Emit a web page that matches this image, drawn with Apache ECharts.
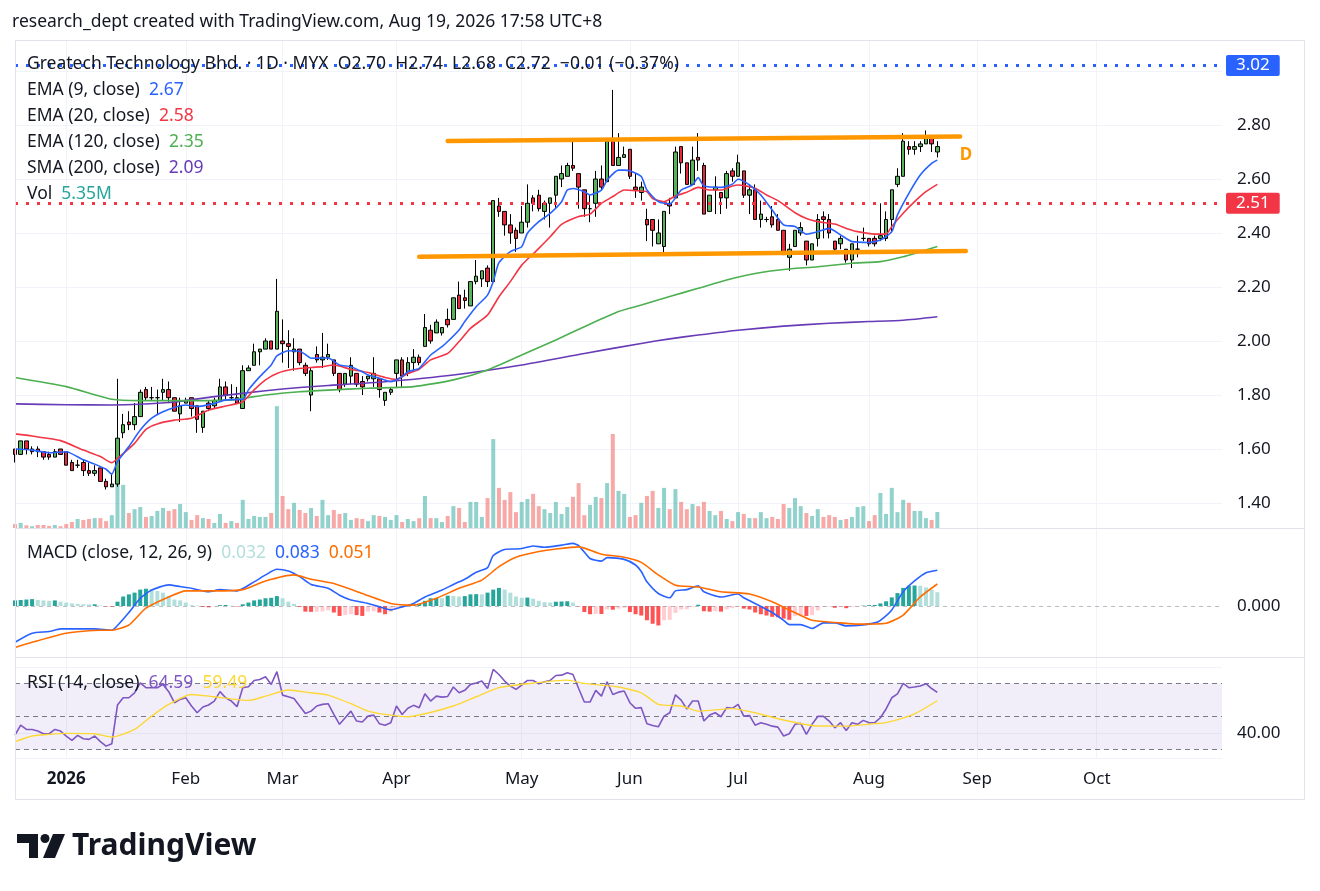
<!DOCTYPE html>
<html>
<head>
<meta charset="utf-8">
<title>Greatech Technology Bhd. 1D MYX</title>
<script src="https://cdn.jsdelivr.net/npm/echarts@6.0.0/dist/echarts.min.js"></script>
<style>
html, body { margin: 0; padding: 0; background: #fff; }
#chart { width: 1320px; height: 891px; }
</style>
</head>
<body>
<div id="chart"></div>
<script>
// trading sessions shown on the time axis (future sessions stay empty)
var tradingDays = [
  ['2025-12', [18,19,22,23,24,26,29,30,31]],
  ['2026-01', [2,5,6,7,8,9,12,13,14,15,16,19,20,21,22,23,26,27,28,29,30]],
  ['2026-02', [3,4,5,6,9,10,11,12,13,16,19,20,23,24,25,26,27]],
  ['2026-03', [2,3,4,5,6,9,10,11,12,13,16,17,18,19,24,25,26,27,30,31]],
  ['2026-04', [1,2,3,6,7,8,9,10,13,14,15,16,17,20,21,22,23,24,27,28,29,30]],
  ['2026-05', [4,5,6,7,8,11,12,13,14,15,18,19,20,21,22,25,26,28,29]],
  ['2026-06', [3,4,5,8,9,10,11,12,15,16,18,19,22,23,24,25,26,29,30]],
  ['2026-07', [1,2,3,6,7,8,9,10,13,14,15,16,17,20,21,22,23,24,27,28,29,30,31]],
  ['2026-08', [3,4,5,6,7,10,11,12,13,14,17,18,19,20,21,24,26,27,28]],
  ['2026-09', [1,2,3,4,7,8,9,10,11,14,15,17,18,21,22,23,24,25,28,29,30]],
  ['2026-10', [1,2,5,6,7,8,9,12,13,14,15,16,19,20,21,22,23,26,27,28,29,30]],
  ['2026-11', [2]]
];
var monthNames = ['Jan','Feb','Mar','Apr','May','Jun','Jul','Aug','Sep','Oct','Nov','Dec'];

var opens = [
  1.60,1.58,1.63,1.59,1.60,1.59,1.58,1.57,1.60,1.59,
  1.55,1.54,1.55,1.52,1.51,1.53,1.48,1.46,1.47,1.66,
  1.70,1.69,1.72,1.82,1.79,1.79,1.81,1.82,1.79,1.73,
  1.77,1.79,1.76,1.68,1.77,1.76,1.78,1.83,1.79,1.79,
  1.75,1.89,1.91,1.96,1.97,2.00,1.97,2.00,1.99,1.96,
  1.97,1.91,1.80,1.95,1.93,1.94,1.93,1.88,1.84,1.87,
  1.88,1.85,1.86,1.86,1.86,1.78,1.81,1.88,1.93,1.88,
  1.92,1.94,1.98,2.04,2.03,2.03,2.08,2.08,2.17,2.16,
  2.13,2.22,2.23,2.27,2.22,2.50,2.48,2.43,2.41,2.40,
  2.44,2.53,2.54,2.48,2.51,2.54,2.60,2.61,2.65,2.62,
  2.56,2.49,2.51,2.60,2.59,2.74,2.65,2.68,2.71,2.57,
  2.55,2.45,2.45,2.36,2.35,2.51,2.53,2.72,2.66,2.58,
  2.68,2.65,2.48,2.56,2.55,2.53,2.63,2.61,2.63,2.54,
  2.56,2.45,2.45,2.46,2.45,2.41,2.31,2.35,2.40,2.37,
  2.30,2.38,2.46,2.45,2.37,2.36,2.34,2.30,2.34,2.38,
  2.38,2.38,2.38,2.38,2.45,2.58,2.61,2.72,2.71,2.72,
  2.73,2.76,2.70
];
var highs = [
  1.60,1.63,1.63,1.61,1.61,1.59,1.59,1.60,1.60,1.59,
  1.56,1.56,1.56,1.55,1.54,1.53,1.49,1.51,1.86,1.73,
  1.74,1.77,1.82,1.83,1.83,1.82,1.86,1.85,1.79,1.79,
  1.79,1.79,1.76,1.74,1.78,1.79,1.86,1.85,1.84,1.83,
  1.91,1.91,1.99,1.97,2.01,2.00,2.23,2.08,2.04,2.01,
  1.97,1.92,1.90,1.98,2.03,1.99,1.93,1.88,1.88,1.94,
  1.88,1.87,1.87,1.94,1.86,1.81,1.83,1.93,1.94,1.94,
  1.97,1.95,2.10,2.06,2.08,2.05,2.12,2.16,2.22,2.19,
  2.22,2.30,2.26,2.28,2.52,2.53,2.48,2.47,2.42,2.50,
  2.58,2.54,2.56,2.52,2.53,2.61,2.65,2.66,2.75,2.62,
  2.56,2.54,2.63,2.65,2.75,2.93,2.77,2.72,2.71,2.62,
  2.59,2.49,2.45,2.45,2.48,2.53,2.72,2.72,2.66,2.72,
  2.77,2.66,2.54,2.61,2.55,2.63,2.64,2.69,2.63,2.58,
  2.58,2.52,2.46,2.50,2.47,2.41,2.36,2.41,2.44,2.37,
  2.36,2.47,2.48,2.47,2.37,2.39,2.34,2.36,2.39,2.42,
  2.38,2.39,2.51,2.48,2.56,2.64,2.77,2.74,2.74,2.74,
  2.78,2.76,2.74
];
var lows = [
  1.55,1.58,1.58,1.58,1.57,1.56,1.56,1.57,1.58,1.54,
  1.52,1.53,1.50,1.50,1.50,1.48,1.45,1.46,1.46,1.64,
  1.67,1.67,1.72,1.78,1.78,1.73,1.78,1.77,1.74,1.70,
  1.77,1.72,1.66,1.66,1.74,1.75,1.78,1.78,1.78,1.77,
  1.75,1.89,1.91,1.91,1.97,1.97,1.97,1.92,1.90,1.89,
  1.91,1.87,1.74,1.92,1.90,1.93,1.87,1.81,1.83,1.84,
  1.83,1.80,1.85,1.83,1.79,1.76,1.80,1.83,1.83,1.87,
  1.89,1.91,1.98,1.99,2.03,2.02,2.05,2.08,2.12,2.12,
  2.13,2.21,2.20,2.20,2.22,2.46,2.39,2.36,2.33,2.40,
  2.42,2.48,2.48,2.45,2.42,2.49,2.57,2.61,2.63,2.49,
  2.46,2.44,2.46,2.56,2.59,2.65,2.65,2.68,2.60,2.53,
  2.52,2.37,2.35,2.36,2.32,2.47,2.53,2.62,2.58,2.58,
  2.63,2.47,2.48,2.47,2.47,2.49,2.59,2.61,2.53,2.47,
  2.45,2.42,2.44,2.42,2.41,2.32,2.26,2.35,2.39,2.28,
  2.30,2.35,2.38,2.38,2.33,2.34,2.29,2.27,2.31,2.37,
  2.35,2.35,2.37,2.37,2.40,2.57,2.61,2.69,2.69,2.70,
  2.73,2.70,2.68
];
var closes = [
  1.58,1.63,1.60,1.60,1.59,1.57,1.57,1.59,1.58,1.54,
  1.52,1.54,1.52,1.51,1.52,1.48,1.46,1.47,1.64,1.69,
  1.69,1.72,1.81,1.79,1.79,1.79,1.82,1.79,1.74,1.76,
  1.78,1.75,1.71,1.74,1.75,1.78,1.83,1.80,1.79,1.77,
  1.89,1.90,1.96,1.97,2.00,1.97,2.11,1.99,1.98,1.97,
  1.92,1.88,1.89,1.93,1.94,1.95,1.88,1.82,1.88,1.91,
  1.84,1.83,1.87,1.88,1.82,1.81,1.82,1.93,1.87,1.92,
  1.94,1.92,2.05,2.00,2.07,2.05,2.06,2.16,2.12,2.15,
  2.22,2.24,2.26,2.22,2.52,2.48,2.43,2.40,2.38,2.44,
  2.51,2.51,2.49,2.51,2.53,2.61,2.62,2.65,2.64,2.57,
  2.49,2.49,2.60,2.57,2.74,2.65,2.68,2.69,2.61,2.56,
  2.57,2.43,2.41,2.40,2.48,2.50,2.70,2.66,2.58,2.67,
  2.67,2.47,2.54,2.57,2.53,2.62,2.61,2.66,2.54,2.56,
  2.45,2.47,2.45,2.43,2.41,2.32,2.34,2.41,2.42,2.30,
  2.36,2.45,2.45,2.40,2.34,2.38,2.30,2.36,2.34,2.38,
  2.36,2.36,2.39,2.45,2.56,2.61,2.74,2.71,2.72,2.73,
  2.76,2.73,2.72
];
// volume in millions of shares
var volumes = [
  1.3,1.7,0.9,0.6,1.0,1.0,0.7,1.0,0.6,1.3,
  2.0,3.0,2.7,3.0,3.3,3.3,2.3,4.3,15.6,14.4,
  5.0,6.3,7.0,3.7,4.0,5.7,6.7,5.7,6.3,8.0,
  5.3,2.7,4.3,3.3,3.0,1.7,4.7,1.7,2.3,1.7,
  9.4,3.0,4.0,3.7,3.7,5.0,40.7,10.7,6.3,8.4,
  6.0,5.0,6.7,4.0,9.4,4.3,6.0,4.7,5.0,2.7,
  3.3,3.0,2.3,4.3,4.0,3.7,2.7,4.3,2.0,3.0,
  2.3,3.3,10.7,3.3,3.3,2.0,4.0,7.3,6.7,2.0,
  8.7,8.7,3.7,10.0,29.7,13.4,9.4,12.0,5.3,8.7,
  9.7,11.4,7.3,6.3,5.0,8.7,4.7,7.0,10.4,15.0,
  4.3,7.7,10.4,10.0,15.0,31.4,12.4,11.4,3.7,4.3,
  8.4,10.7,12.4,6.7,13.4,6.3,13.0,8.7,6.3,8.0,
  7.3,8.7,5.7,4.3,5.7,3.0,2.3,5.3,4.7,3.3,
  3.3,5.3,3.3,3.7,3.0,8.0,6.7,10.0,7.3,5.0,
  4.0,6.3,3.7,4.3,3.7,2.7,3.0,3.7,7.0,7.3,
  2.3,4.3,11.7,4.7,13.4,5.3,9.4,8.4,5.7,5.7,
  3.3,2.7,5.35
];

// moving averages: [session index, value]
var ema9 = [[0,1.60],[3,1.596],[6,1.586],[9,1.59],[12,1.56],[14,1.544],[16,1.525],[17,1.507],[18,1.553],[20,1.609],[22,1.67],[24,1.714],[26,1.738],[28,1.754],[30,1.763],[32,1.757],[35,1.769],[37,1.782],[40,1.784],[41,1.819],[43,1.868],[45,1.911],[46,1.945],[48,1.964],[50,1.962],[51,1.95],[52,1.936],[54,1.937],[55,1.937],[57,1.911],[59,1.905],[61,1.886],[62,1.874],[64,1.862],[66,1.849],[68,1.868],[69,1.886],[71,1.899],[73,1.948],[75,1.979],[76,1.998],[78,2.041],[79,2.072],[81,2.127],[83,2.17],[84,2.22],[85,2.29],[87,2.331],[89,2.349],[90,2.399],[92,2.442],[94,2.473],[96,2.516],[97,2.559],[98,2.565],[100,2.553],[101,2.541],[103,2.559],[104,2.596],[106,2.633],[107,2.633],[108,2.631],[110,2.609],[111,2.559],[113,2.516],[115,2.507],[117,2.559],[119,2.578],[120,2.605],[121,2.574],[124,2.569],[126,2.581],[127,2.599],[129,2.578],[131,2.541],[133,2.485],[135,2.43],[137,2.424],[139,2.396],[141,2.405],[143,2.417],[145,2.393],[147,2.368],[150,2.365],[152,2.374],[154,2.405],[155,2.467],[157,2.547],[159,2.615],[161,2.658],[162,2.67]];
var ema20 = [[0,1.656],[3,1.648],[8,1.631],[12,1.596],[15,1.572],[17,1.549],[18,1.565],[21,1.621],[23,1.673],[25,1.693],[28,1.707],[31,1.714],[34,1.744],[37,1.759],[40,1.775],[42,1.819],[44,1.856],[46,1.88],[49,1.896],[52,1.902],[54,1.905],[56,1.911],[59,1.895],[62,1.883],[65,1.865],[67,1.858],[69,1.88],[71,1.895],[73,1.93],[76,1.954],[78,1.998],[80,2.047],[83,2.096],[85,2.164],[87,2.22],[89,2.281],[92,2.343],[94,2.386],[96,2.432],[99,2.461],[101,2.47],[103,2.51],[105,2.535],[107,2.559],[109,2.557],[111,2.553],[112,2.528],[114,2.516],[116,2.537],[118,2.551],[120,2.569],[122,2.559],[124,2.559],[126,2.574],[127,2.578],[130,2.566],[132,2.541],[134,2.52],[137,2.475],[139,2.454],[141,2.442],[144,2.433],[146,2.417],[148,2.405],[151,2.396],[153,2.396],[154,2.424],[156,2.473],[158,2.516],[160,2.553],[162,2.58]];
var ema120 = [[0,1.865],[9,1.831],[17,1.784],[22,1.779],[30,1.779],[38,1.782],[44,1.80],[50,1.812],[55,1.818],[62,1.825],[70,1.831],[77,1.856],[83,1.893],[89,1.948],[95,2.004],[100,2.053],[106,2.109],[110,2.133],[115,2.165],[120,2.195],[125,2.226],[130,2.25],[135,2.265],[141,2.275],[147,2.288],[152,2.294],[156,2.312],[159,2.331],[162,2.35]];
var sma200 = [[0,1.767],[9,1.764],[17,1.763],[27,1.772],[35,1.794],[44,1.816],[50,1.828],[55,1.835],[65,1.849],[77,1.874],[89,1.911],[100,1.954],[110,1.991],[115,2.008],[120,2.022],[127,2.04],[135,2.055],[143,2.066],[150,2.072],[156,2.077],[162,2.09]];

// user drawn channel and price levels
var upperTrend = [[76, 2.741], [166, 2.757]];
var lowerTrend = [[71, 2.312], [167, 2.333]];
var priceLines = [3.02, 2.51];

// MACD (12, 26, 9)
var macdHist = [
  0.013,0.014,0.015,0.016,0.014,0.013,0.012,0.013,0.010,0.008,
  0.006,0.005,0.004,0.0035,0.004,0.001,-0.001,-0.0015,0.010,0.022,
  0.027,0.031,0.038,0.040,0.039,0.035,0.031,0.023,0.015,0.013,
  0.008,0.002,0.001,-0.002,-0.003,-0.001,0.002,0.0025,0.001,-0.001,
  0.004,0.008,0.013,0.015,0.018,0.019,0.023,0.018,0.010,0.005,
  -0.002,-0.013,-0.0135,-0.013,-0.0125,-0.010,-0.015,-0.023,-0.021,-0.019,
  -0.021,-0.023,-0.013,-0.012,-0.015,-0.019,-0.013,-0.008,-0.004,-0.002,
  0.004,0.005,0.012,0.018,0.0185,0.018,0.024,0.023,0.022,0.023,
  0.027,0.0275,0.027,0.031,0.038,0.042,0.038,0.031,0.022,0.019,
  0.0195,0.017,0.012,0.009,0.008,0.010,0.0105,0.011,0.008,-0.001,
  -0.014,-0.019,-0.018,-0.0185,-0.008,-0.0085,-0.006,-0.004,-0.014,-0.019,
  -0.022,-0.033,-0.041,-0.045,-0.033,-0.032,-0.016,-0.008,-0.0075,-0.002,
  0.003,-0.012,-0.013,-0.012,-0.013,-0.008,-0.005,-0.002,-0.006,-0.008,
  -0.015,-0.019,-0.022,-0.025,-0.026,-0.029,-0.032,-0.023,-0.021,-0.023,
  -0.021,-0.010,-0.002,-0.001,-0.004,-0.002,-0.005,-0.002,-0.0015,0.001,
  0.002,0.0025,0.006,0.011,0.020,0.030,0.042,0.047,0.0475,0.047,
  0.043,0.038,0.032
];
var macdLine = [[0,-0.084],[3,-0.063],[6,-0.059],[8,-0.053],[11,-0.053],[14,-0.053],[17,-0.056],[18,-0.045],[20,-0.015],[22,0.018],[24,0.037],[27,0.049],[29,0.045],[31,0.041],[34,0.033],[36,0.038],[39,0.035],[42,0.056],[44,0.072],[46,0.085],[48,0.081],[50,0.068],[52,0.05],[55,0.041],[57,0.025],[59,0.014],[62,0.006],[64,-0.002],[66,-0.009],[68,-0.002],[70,0.006],[72,0.021],[75,0.037],[77,0.05],[79,0.062],[81,0.078],[83,0.089],[84,0.117],[86,0.131],[88,0.132],[89,0.133],[91,0.139],[93,0.136],[96,0.141],[98,0.145],[99,0.140],[101,0.110],[103,0.104],[104,0.112],[107,0.108],[109,0.095],[110,0.08],[111,0.056],[113,0.029],[115,0.019],[116,0.035],[118,0.038],[120,0.047],[121,0.033],[124,0.021],[127,0.028],[128,0.019],[130,0.006],[133,-0.015],[135,-0.033],[136,-0.043],[138,-0.043],[140,-0.052],[142,-0.039],[144,-0.039],[146,-0.046],[148,-0.045],[151,-0.039],[152,-0.033],[154,-0.009],[156,0.033],[158,0.058],[160,0.077],[162,0.083]];
var macdSignal = [[0,-0.096],[3,-0.084],[9,-0.063],[15,-0.056],[17,-0.056],[20,-0.044],[23,-0.005],[27,0.021],[30,0.035],[35,0.035],[40,0.038],[44,0.058],[49,0.072],[52,0.062],[56,0.052],[61,0.029],[66,0.006],[70,0.002],[74,0.018],[78,0.041],[82,0.060],[85,0.091],[88,0.113],[92,0.126],[95,0.132],[99,0.137],[103,0.12],[107,0.113],[110,0.101],[113,0.072],[116,0.048],[120,0.044],[124,0.033],[129,0.028],[133,0.010],[136,-0.009],[140,-0.033],[145,-0.039],[148,-0.042],[153,-0.040],[156,-0.021],[159,0.021],[162,0.051]];

// RSI (14) and its moving average
var rsi = [
  38.7,44.7,42.1,42.1,41.1,39.5,39.5,42.1,41.1,38.1,
  35.5,38.5,36.5,36.1,38.1,34.7,32.0,33.4,56.9,61.3,
  61.3,64.3,70.3,67.4,67.4,67.4,69.4,65.0,58.3,60.3,
  61.3,56.3,52.2,55.7,56.9,59.3,65.0,61.3,59.3,55.9,
  67.4,68.0,71.8,72.4,74.0,69.4,77.1,62.9,61.9,60.9,
  56.3,51.8,53.2,56.3,57.3,57.7,51.2,45.2,49.2,53.2,
  47.2,46.6,50.2,50.8,45.6,44.7,46.2,56.3,51.2,54.9,
  56.7,55.3,63.7,59.3,62.3,61.7,62.1,67.8,64.3,65.8,
  69.4,70.3,71.4,66.9,78.5,75.4,71.4,68.4,66.4,69.0,
  71.8,71.8,69.8,71.0,71.8,74.8,75.0,76.5,75.4,66.9,
  58.7,58.7,65.8,62.3,71.0,63.3,64.7,65.4,58.3,54.9,
  55.3,45.6,44.5,43.7,50.2,52.2,63.1,59.9,54.5,59.3,
  59.3,47.2,50.8,52.2,49.8,55.3,54.9,57.3,50.2,50.6,
  44.7,46.2,45.2,44.1,43.5,38.1,39.5,45.2,45.8,39.1,
  45.2,50.0,50.0,47.2,43.1,46.2,41.5,46.2,45.2,47.6,
  46.2,46.2,49.2,54.5,61.3,63.7,70.0,67.4,67.8,68.4,
  69.8,66.9,64.6
];
var rsiMa = [[0,34.7],[3,38.1],[6,39.1],[9,39.7],[14,39.5],[17,37.5],[21,42.1],[24,50.2],[27,57.3],[31,63.3],[35,61.9],[41,59.7],[44,62.3],[48,66.0],[52,64.3],[55,62.9],[59,57.7],[62,53.2],[65,51.2],[69,49.8],[72,51.6],[77,56.3],[81,61.9],[85,67.4],[90,69.8],[97,72.0],[100,70.0],[106,67.8],[110,64.3],[113,57.3],[117,56.3],[120,53.2],[126,54.7],[130,52.2],[134,48.6],[140,44.5],[146,44.1],[151,45.6],[153,46.2],[158,51.6],[162,59.5]];
var rsiLevels = [70, 50, 30];

// texts
var headerText = 'research_dept created with TradingView.com, Aug 19, 2026 17:58 UTC+8';
var titleText = 'Greatech Technology Bhd. · 1D · MYX  O2.70  H2.74  L2.68  C2.72  −0.01 (−0.37%)';
var legendRows = [
  ['EMA (9, close)', '2.67', '#2962FF'],
  ['EMA (20, close)', '2.58', '#F23645'],
  ['EMA (120, close)', '2.35', '#4CAF50'],
  ['SMA (200, close)', '2.09', '#673AB7'],
  ['Vol', '5.35M', '#26A69A']
];

var FONT = '"Noto Sans", "Open Sans", sans-serif';
var INK = '#131722';
var GRID = '#f0f3fa';
var TXT = 17.5;
var AXT = 17;

var categories = [];
tradingDays.forEach(function (m) {
  m[1].forEach(function (d) { categories.push(m[0] + '-' + (d < 10 ? '0' + d : d)); });
});
function isMonthStart(i) {
  return i > 0 && i < categories.length - 1 && categories[i].slice(0, 7) !== categories[i - 1].slice(0, 7);
}

var candles = opens.map(function (o, i) { return [o, closes[i], lows[i], highs[i]]; });
var volBars = volumes.map(function (v, i) {
  return { value: v, itemStyle: { color: closes[i] >= opens[i] ? 'rgba(38,166,154,0.5)' : 'rgba(239,83,80,0.5)' } };
});
var histBars = macdHist.map(function (h, i) {
  var prev = i > 0 ? macdHist[i - 1] : -1;
  var c;
  if (h >= 0) c = prev < h ? '#26A69A' : '#B2DFDB';
  else c = prev < h ? '#FFCDD2' : '#FF5252';
  return { value: h, itemStyle: { color: c } };
});

function xAxisFor(idx, showLabels, showSplit) {
  return {
    type: 'category', gridIndex: idx, data: categories, boundaryGap: false,
    axisLine: { show: false }, axisTick: { show: false },
    axisLabel: {
      show: showLabels, interval: function (i) { return isMonthStart(i); },
      margin: 13, color: INK, fontSize: AXT, fontFamily: FONT,
      formatter: function (v) {
        var m = +v.slice(5, 7);
        return m === 1 ? '{y|' + v.slice(0, 4) + '}' : monthNames[m - 1];
      },
      rich: { y: { fontWeight: 'bold', fontSize: AXT, fontFamily: FONT, color: INK } }
    },
    splitLine: { show: showSplit, interval: function (i) { return isMonthStart(i); }, lineStyle: { color: GRID, width: 1 } }
  };
}

function lineSeries(name, data, color, xi, width) {
  return {
    name: name, type: 'line', xAxisIndex: xi, yAxisIndex: xi, data: data,
    showSymbol: false, smooth: 0.2, silent: true, z: 5,
    lineStyle: { color: color, width: width || 1.6 }
  };
}

function richLine(x, y, parts, size, weight) {
  var rich = {}, s = '';
  parts.forEach(function (p, i) {
    rich['p' + i] = { fill: p[1], fontSize: size, fontFamily: FONT, fontWeight: weight || 'normal' };
    s += '{p' + i + '|' + p[0] + '}';
  });
  return { type: 'text', x: x, y: y, z: 100, silent: true,
    style: { text: s, rich: rich, verticalAlign: 'middle', fontSize: size, fontFamily: FONT } };
}

var graphics = [
  { type: 'rect', silent: true, z: 90, shape: { x: 15.5, y: 40.5, width: 1289, height: 759 }, style: { fill: 'none', stroke: '#e0e3eb', lineWidth: 1 } },
  { type: 'line', silent: true, z: 90, shape: { x1: 15, y1: 528.5, x2: 1305, y2: 528.5 }, style: { stroke: '#e0e3eb', lineWidth: 1 } },
  { type: 'line', silent: true, z: 90, shape: { x1: 15, y1: 657.5, x2: 1305, y2: 657.5 }, style: { stroke: '#e0e3eb', lineWidth: 1 } },
  richLine(12, 22, [[headerText, INK]], TXT),
  richLine(27, 64, [[titleText, INK]], TXT),
  richLine(27, 553, [['MACD (close, 12, 26, 9)  ', INK], ['0.032', '#B2DFDB'], ['  ', INK], ['0.083', '#2962FF'], ['  ', INK], ['0.051', '#FF6D00']], TXT),
  richLine(27, 683, [['RSI (14, close)  ', INK], ['64.59', '#7E57C2'], ['  ', INK], ['59.49', '#FDD835']], TXT),
  { type: 'text', x: 966, y: 155, z: 100, silent: true,
    style: { text: 'D', fill: '#FF9800', fontSize: 17, fontWeight: 'bold', fontFamily: FONT, align: 'center', verticalAlign: 'middle' } },
  // TradingView mark
  { type: 'polygon', silent: true, z: 100, shape: { points: [[17,834],[38,834],[38,858],[29,858],[29,843],[17,843]] }, style: { fill: INK } },
  { type: 'circle', silent: true, z: 100, shape: { cx: 45, cy: 838.5, r: 4.5 }, style: { fill: INK } },
  { type: 'polygon', silent: true, z: 100, shape: { points: [[53,834],[65,834],[55,858],[43,858]] }, style: { fill: INK } },
  { type: 'text', x: 72, y: 846, z: 100, silent: true,
    style: { text: 'TradingView', fill: INK, fontSize: 30, fontWeight: 'bold', fontFamily: FONT, verticalAlign: 'middle' } }
];
legendRows.forEach(function (r, i) {
  graphics.push(richLine(27, 90 + i * 26, [[r[0] + '  ', INK], [r[1], r[2]]], TXT));
});

var chart = echarts.init(document.getElementById('chart'), null, { renderer: 'canvas' });
chart.setOption({
  animation: false,
  backgroundColor: '#ffffff',
  textStyle: { fontFamily: FONT },
  grid: [
    { left: 15, top: 40, width: 1207, height: 488 },
    { left: 15, top: 40, width: 1207, height: 488 },
    { left: 15, top: 528, width: 1207, height: 129 },
    { left: 15, top: 657, width: 1207, height: 101 }
  ],
  xAxis: [xAxisFor(0, false, true), xAxisFor(1, false, false), xAxisFor(2, false, true), xAxisFor(3, true, true)],
  yAxis: [
    {
      gridIndex: 0, type: 'value', position: 'right', min: 1.30741, max: 3.11481,
      splitNumber: 9, minInterval: 0.2, maxInterval: 0.2,
      axisLine: { show: false }, axisTick: { show: false },
      axisLabel: {
        margin: 15, color: INK, fontSize: AXT, fontFamily: FONT,
        formatter: function (v) {
          var k = v * 5;
          if (Math.abs(k - Math.round(k)) > 1e-6 || Math.abs(v - 3) < 1e-6) return '';
          return v.toFixed(2);
        }
      },
      splitLine: { lineStyle: { color: GRID } }
    },
    { gridIndex: 1, type: 'value', min: 0, max: 163, show: false, splitLine: { show: false } },
    {
      gridIndex: 2, type: 'value', position: 'right', min: -0.118, max: 0.1806,
      splitNumber: 3, minInterval: 0.1, maxInterval: 0.1,
      axisLine: { show: false }, axisTick: { show: false }, splitLine: { show: false },
      axisLabel: {
        margin: 15, color: INK, fontSize: AXT, fontFamily: FONT,
        formatter: function (v) { return Math.abs(v) < 1e-9 ? '0.000' : ''; }
      }
    },
    {
      gridIndex: 3, type: 'value', position: 'right', min: 24.8, max: 86,
      splitNumber: 2, minInterval: 40, maxInterval: 40,
      axisLine: { show: false }, axisTick: { show: false },
      splitLine: { lineStyle: { color: GRID } },
      axisLabel: {
        margin: 15, color: INK, fontSize: AXT, fontFamily: FONT,
        formatter: function (v) { return Math.abs(v - 40) < 1e-9 ? '40.00' : ''; }
      }
    }
  ],
  series: [
    { name: 'Vol', type: 'bar', xAxisIndex: 1, yAxisIndex: 1, data: volBars, barWidth: 4, silent: true, z: 1 },
    {
      name: 'Price', type: 'candlestick', xAxisIndex: 0, yAxisIndex: 0, data: candles, barWidth: 4, z: 3, silent: true,
      itemStyle: { color: '#57b35a', color0: '#e8273b', borderColor: '#000000', borderColor0: '#000000', borderWidth: 1 },
      markLine: {
        silent: true, symbol: ['none', 'none'], animation: false,
        data: [
          { yAxis: priceLines[0], lineStyle: { color: '#2962FF', width: 3, type: [3, 8] },
            label: { backgroundColor: '#2962FF' } },
          { yAxis: priceLines[1], lineStyle: { color: '#F23645', width: 3, type: [3, 8] },
            label: { backgroundColor: '#F23645' } }
        ],
        label: {
          show: true, position: 'end', distance: 4, color: '#ffffff', fontSize: AXT, fontFamily: FONT,
          padding: [2, 10], borderRadius: 2, formatter: function (p) { return p.value.toFixed(2); }
        }
      }
    },
    lineSeries('SMA 200', sma200, '#673AB7', 0),
    lineSeries('EMA 120', ema120, '#4CAF50', 0),
    lineSeries('EMA 20', ema20, '#F23645', 0),
    lineSeries('EMA 9', ema9, '#2962FF', 0),
    { name: 'Upper channel', type: 'line', xAxisIndex: 0, yAxisIndex: 0, data: upperTrend, showSymbol: false, silent: true, z: 6,
      lineStyle: { color: '#FF9800', width: 4.5, cap: 'round' } },
    { name: 'Lower channel', type: 'line', xAxisIndex: 0, yAxisIndex: 0, data: lowerTrend, showSymbol: false, silent: true, z: 6,
      lineStyle: { color: '#FF9800', width: 4.5, cap: 'round' } },
    {
      name: 'Histogram', type: 'bar', xAxisIndex: 2, yAxisIndex: 2, data: histBars, barWidth: 4, silent: true, z: 2,
      markLine: {
        silent: true, symbol: ['none', 'none'], label: { show: false },
        lineStyle: { color: 'rgba(120,123,134,0.5)', type: [4, 4], width: 1 },
        data: [{ yAxis: 0 }]
      }
    },
    lineSeries('MACD', macdLine, '#2962FF', 2),
    lineSeries('Signal', macdSignal, '#FF6D00', 2),
    {
      name: 'RSI', type: 'line', xAxisIndex: 3, yAxisIndex: 3, data: rsi, showSymbol: false, silent: true, z: 5,
      lineStyle: { color: '#7E57C2', width: 1.6 },
      markArea: { silent: true, itemStyle: { color: 'rgba(126,87,194,0.1)' }, data: [[{ yAxis: rsiLevels[2] }, { yAxis: rsiLevels[0] }]] },
      markLine: {
        silent: true, symbol: ['none', 'none'], label: { show: false },
        lineStyle: { color: '#787B86', type: [5, 4], width: 1 },
        data: rsiLevels.map(function (v) { return { yAxis: v }; })
      }
    },
    lineSeries('RSI MA', rsiMa, '#FDD835', 3, 1.4)
  ],
  graphic: graphics
});
</script>
</body>
</html>
